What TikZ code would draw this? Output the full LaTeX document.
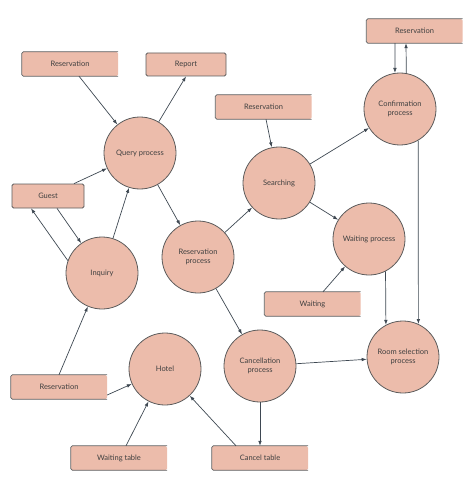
\documentclass[tikz,border=0pt]{standalone}
\usepackage{fontspec}
\setmainfont{Lato}
\usepackage{tikz}
\usetikzlibrary{arrows.meta}

\definecolor{boxfill}{HTML}{ECBCAB}
\definecolor{rimgray}{HTML}{5C5C5C}
\definecolor{flowgray}{HTML}{3E4852}
\definecolor{txtgray}{HTML}{404040}

\tikzset{
  proc/.style={circle,fill=boxfill,draw=rimgray,line width=0.8pt,minimum size=72pt,
    inner sep=0pt,align=center,text=txtgray,font=\fontsize{7.5}{9.5}\selectfont},
  store/.style={rectangle,fill=boxfill,rounded corners=1.5pt,minimum width=96pt,minimum height=24pt,
    inner sep=0pt,text=txtgray,font=\fontsize{7.5}{9.5}\selectfont},
  entity/.style={store,draw=rimgray,line width=0.8pt},
  storeline/.style={draw=rimgray,line width=0.8pt,rounded corners=1.5pt},
  flow/.style={->,draw=flowgray,line width=0.7pt},
  >={Latex[length=5pt,width=3.6pt]}
}

\begin{document}
\begin{tikzpicture}[x=1pt,y=-1pt]
  \useasboundingbox (0,0) rectangle (474,500);

  % processes
  \node[proc] (query) at (140,153) {Query process};
  \node[proc] (inquiry) at (102,273) {Inquiry};
  \node[proc] (resproc) at (198,257) {Reservation\\process};
  \node[proc] (hotel) at (165,369) {Hotel};
  \node[proc] (search) at (279,183) {Searching};
  \node[proc] (confirm) at (400,109) {Confirmation\\process};
  \node[proc] (waitproc) at (369,239) {Waiting process};
  \node[proc] (cancel) at (260,366) {Cancellation\\process};
  \node[proc] (room) at (403,357) {Room selection\\process};

  % stores and entities
  \node[store] (resq) at (70,64) {Reservation};
  \node[entity,minimum width=80pt,minimum height=23pt] (report) at (186,64.5) {Report};
  \node[entity,minimum width=72pt] (guest) at (48,196) {Guest};
  \node[store] (resc) at (414.5,31) {Reservation};
  \node[store] (ress) at (263.5,107) {Reservation};
  \node[store] (waitst) at (312.5,304) {Waiting};
  \node[store] (resh) at (59,387) {Reservation};
  \node[store] (waittab) at (119,458) {Waiting table};
  \node[store] (canceltab) at (260,458) {Cancel table};

  % open right side
  \foreach \n in {resq,resc,ress,waitst,resh,waittab,canceltab}
    \draw[storeline] (\n.north east) -- (\n.north west) -- (\n.south west) -- (\n.south east);

  % flows
  \draw[flow] ([xshift=9pt]resq.south) -- (query);
  \draw[flow] (query) -- (report.south);
  \draw[flow] ([xshift=26pt]guest.north) -- (query);
  \draw[flow] (inquiry) -- (query);
  \draw[flow] (inquiry.160) -- ([xshift=-17pt]guest.south);
  \draw[flow] ([xshift=9pt]guest.south) -- (inquiry);
  \draw[flow] (query) -- (resproc);
  \draw[flow] (resh.north) -- (inquiry);
  \draw[flow] ([yshift=-8pt]resh.east) -- (hotel);
  \draw[flow] ([xshift=7pt]waittab.north) -- (hotel);
  \draw[flow] ([xshift=-24pt]canceltab.north) -- (hotel);
  \draw[flow] (resproc) -- (search);
  \draw[flow] (resproc) -- (cancel);
  \draw[flow] (cancel) -- (canceltab.north);
  \draw[flow] (cancel) -- (room);
  \draw[flow] ([xshift=2.5pt]ress.south) -- (search);
  \draw[flow] (search) -- (confirm);
  \draw[flow] (search) -- (waitproc);
  \draw[flow] ([xshift=10.5pt]waitst.north) -- (waitproc);
  \draw[flow] (waitproc.-63.6) -- (room.118);
  \draw[flow] (confirm.-60) -- (room.65);
  \draw[flow] ([xshift=-19.5pt]resc.south) -- (confirm.98);
  \draw[flow] (confirm.80.4) -- ([xshift=-8.5pt]resc.south);
\end{tikzpicture}
\end{document}
